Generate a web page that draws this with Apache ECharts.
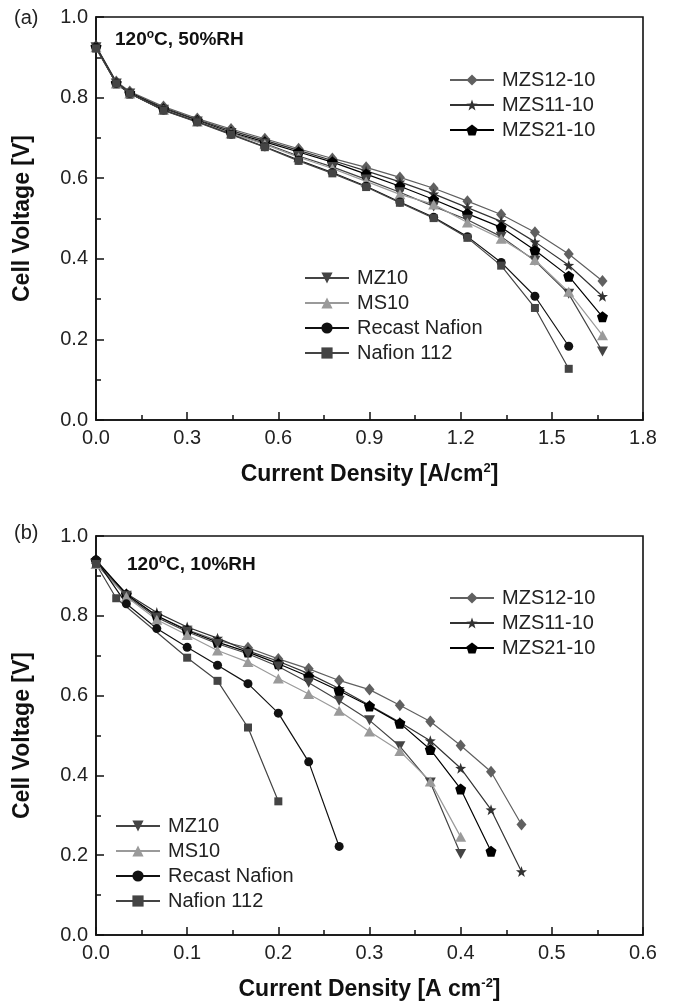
<!DOCTYPE html>
<html><head><meta charset="utf-8">
<script src="https://cdn.jsdelivr.net/npm/echarts@6/dist/echarts.min.js"></script>
<style>html,body{margin:0;padding:0;background:#fff}#c{width:673px;height:1002px}</style>
</head><body><div id="c"></div>
<script>
// ---- data ----
const names = ['MZS12-10','MZS11-10','MZS21-10','MZ10','MS10','Recast Nafion','Nafion 112'];
const xTicksA = [0.0,0.3,0.6,0.9,1.2,1.5,1.8];
const xTicksB = [0.0,0.1,0.2,0.3,0.4,0.5,0.6];
const yTicks = [0.0,0.2,0.4,0.6,0.8,1.0];

// panel (a) 120 C, 50% RH
const xA = [0, 0.0667, 0.1111, 0.2222, 0.3333, 0.4444, 0.5556, 0.6667, 0.7778, 0.8889, 1.0, 1.1111, 1.2222, 1.3333, 1.4444, 1.5556, 1.6667];
const aMZS12 = [0.928, 0.840, 0.815, 0.778, 0.748, 0.722, 0.698, 0.673, 0.649, 0.627, 0.602, 0.575, 0.543, 0.510, 0.466, 0.412, 0.345];
const aMZS11 = [0.927, 0.838, 0.813, 0.775, 0.745, 0.718, 0.694, 0.669, 0.644, 0.618, 0.591, 0.561, 0.527, 0.493, 0.442, 0.384, 0.307];
const aMZS21 = [0.926, 0.836, 0.811, 0.772, 0.743, 0.714, 0.690, 0.665, 0.640, 0.610, 0.580, 0.547, 0.512, 0.478, 0.421, 0.357, 0.256];
const aMZ10  = [0.925, 0.835, 0.810, 0.770, 0.741, 0.712, 0.686, 0.655, 0.628, 0.597, 0.565, 0.530, 0.497, 0.455, 0.395, 0.313, 0.170];
const aMS10  = [0.925, 0.835, 0.810, 0.770, 0.741, 0.711, 0.684, 0.652, 0.624, 0.592, 0.560, 0.535, 0.490, 0.450, 0.397, 0.318, 0.210];
const aRecast= [0.925, 0.835, 0.810, 0.769, 0.740, 0.709, 0.678, 0.645, 0.614, 0.580, 0.541, 0.503, 0.455, 0.391, 0.307, 0.183];
const aN112  = [0.922, 0.835, 0.810, 0.768, 0.739, 0.708, 0.677, 0.643, 0.612, 0.578, 0.539, 0.501, 0.452, 0.383, 0.278, 0.127];

// panel (b) 120 C, 10% RH
const xB = [0, 0.0333, 0.0667, 0.1, 0.1333, 0.1667, 0.2, 0.2333, 0.2667, 0.3, 0.3333, 0.3667, 0.4, 0.4333, 0.4667];
const xBN112 = [0, 0.0222, 0.1, 0.1333, 0.1667, 0.2];
const bMZS12 = [0.932, 0.852, 0.800, 0.765, 0.738, 0.720, 0.692, 0.667, 0.638, 0.615, 0.576, 0.535, 0.475, 0.409, 0.277];
const bMZS11 = [0.935, 0.856, 0.808, 0.772, 0.744, 0.712, 0.686, 0.655, 0.618, 0.576, 0.533, 0.487, 0.418, 0.314, 0.159];
const bMZS21 = [0.940, 0.854, 0.800, 0.763, 0.734, 0.709, 0.680, 0.648, 0.612, 0.574, 0.531, 0.465, 0.366, 0.210];
const bMZ10  = [0.930, 0.850, 0.796, 0.760, 0.730, 0.705, 0.673, 0.632, 0.587, 0.538, 0.473, 0.382, 0.203];
const bMS10  = [0.930, 0.848, 0.790, 0.752, 0.713, 0.684, 0.643, 0.604, 0.562, 0.510, 0.461, 0.385, 0.246];
const bRecast= [0.940, 0.830, 0.768, 0.721, 0.676, 0.630, 0.556, 0.434, 0.222];
const bN112  = [0.930, 0.844, 0.695, 0.637, 0.520, 0.335];

// ---- styles ----
const STAR = 'path://M10,0 L12.35,6.76 L19.51,6.91 L13.8,11.24 L15.88,18.09 L10,14 L4.12,18.09 L6.2,11.24 L0.49,6.91 L7.65,6.76 Z';
const PENT = 'path://M10,0 L19.51,6.91 L15.88,18.09 L4.12,18.09 L0.49,6.91 Z';
const TDOWN = 'path://M0,0 L10,0 L5,8.66 Z';
const sty = {
  'MZS12-10': {symbol:'diamond', size:[10,12], color:'#606060'},
  'MZS11-10': {symbol:STAR, size:11, color:'#333333'},
  'MZS21-10': {symbol:PENT, size:11, color:'#000000'},
  'MZ10': {symbol:TDOWN, size:[11,10], color:'#444444'},
  'MS10': {symbol:'triangle', size:[11,10], color:'#9a9a9a'},
  'Recast Nafion': {symbol:'circle', size:9, color:'#111111'},
  'Nafion 112': {symbol:'rect', size:8, color:'#444444'}
};
const zip = (xs, ys) => ys.map((v, i) => [xs[i], v]);
function mk(name, xs, ys, idx) {
  const s = sty[name];
  return {
    name, type:'line', xAxisIndex: idx, yAxisIndex: idx,
    data: zip(xs, ys), symbol: s.symbol, symbolSize: s.size, showSymbol: true,
    lineStyle: {color: s.color, width: 1.2},
    itemStyle: {color: s.color, borderWidth: 0},
    animation: false, z: 3
  };
}
const series = [
  mk('MZS12-10', xA, aMZS12, 0), mk('MZS11-10', xA, aMZS11, 0), mk('MZS21-10', xA, aMZS21, 0),
  mk('MZ10', xA, aMZ10, 0), mk('MS10', xA, aMS10, 0), mk('Recast Nafion', xA, aRecast, 0), mk('Nafion 112', xA, aN112, 0),
  mk('MZS12-10', xB, bMZS12, 1), mk('MZS11-10', xB, bMZS11, 1), mk('MZS21-10', xB, bMZS21, 1),
  mk('MZ10', xB, bMZ10, 1), mk('MS10', xB, bMS10, 1), mk('Recast Nafion', xB, bRecast, 1), mk('Nafion 112', xBN112, bN112, 1)
];

const FONT = 'Liberation Sans, Arial, sans-serif';
const tickLbl = {fontFamily: FONT, fontSize: 20, color: '#222', margin: 8};
function xAx(idx, ticks, nameRich) {
  const step = ticks[1] - ticks[0];
  return {
    type:'value', gridIndex: idx, min: ticks[0], max: ticks[ticks.length-1], interval: step,
    axisLine: {show: true, onZero: false, lineStyle: {color: '#111', width: 1.6}},
    axisTick: {show: true, inside: true, length: 8, lineStyle: {color: '#111', width: 1.5}},
    minorTick: {show: true, splitNumber: 2, length: 5, lineStyle: {color: '#111', width: 1.5}},
    splitLine: {show: false},
    axisLabel: Object.assign({formatter: v => v.toFixed(1)}, tickLbl),
    name: nameRich, nameLocation: 'middle', nameGap: 42,
    nameTextStyle: {
      rich: {
        t: {fontFamily: FONT, fontSize: 23, fontWeight: 'bold', color: '#111'},
        s: {fontFamily: FONT, fontSize: 13, fontWeight: 'bold', color: '#111', padding: [0,0,12,0]}
      }
    }
  };
}
function yAx(idx) {
  return {
    type:'value', gridIndex: idx, min: 0, max: 1, interval: 0.2,
    axisLine: {show: true, onZero: false, lineStyle: {color: '#111', width: 1.6}},
    axisTick: {show: true, inside: true, length: 8, lineStyle: {color: '#111', width: 1.5}},
    minorTick: {show: true, splitNumber: 2, length: 5, lineStyle: {color: '#111', width: 1.5}},
    splitLine: {show: false},
    axisLabel: Object.assign({formatter: v => v.toFixed(1)}, tickLbl),
    name: 'Cell Voltage [V]', nameLocation: 'middle', nameGap: 62,
    nameTextStyle: {fontFamily: FONT, fontSize: 23, fontWeight: 'bold', color: '#111'}
  };
}
function leg(items, left, top) {
  return {
    data: items, left: left, top: top, orient: 'vertical',
    itemWidth: 44, itemHeight: 14, itemGap: 5, selectedMode: false,
    textStyle: {fontFamily: FONT, fontSize: 20, color: '#222', lineHeight: 20, padding: [0,0,0,3]}
  };
}
const chart = echarts.init(document.getElementById('c'), null, {renderer: 'canvas'});
chart.setOption({
  backgroundColor: '#fff',
  animation: false,
  grid: [
    {left: 96, right: 30, top: 17, height: 403, show: true, borderColor: '#111', borderWidth: 1.6, backgroundColor: 'transparent'},
    {left: 96, right: 30, top: 536, height: 403, show: true, borderColor: '#111', borderWidth: 1.6, backgroundColor: 'transparent'}
  ],
  xAxis: [
    xAx(0, xTicksA, '{t|Current Density [A/cm}{s|2}{t|]}'),
    xAx(1, xTicksB, '{t|Current Density [A cm}{s|-2}{t|]}')
  ],
  yAxis: [yAx(0), yAx(1)],
  legend: [
    leg(['MZS12-10','MZS11-10','MZS21-10'], 444, 65),
    leg(['MZ10','MS10','Recast Nafion','Nafion 112'], 299, 263),
    leg(['MZS12-10','MZS11-10','MZS21-10'], 444, 583),
    leg(['MZ10','MS10','Recast Nafion','Nafion 112'], 110, 811)
  ],
  graphic: [
    {type: 'text', left: 14, top: 8, style: {text: '(a)', font: '20px ' + FONT, fill: '#222'}},
    {type: 'text', left: 14, top: 523, style: {text: '(b)', font: '20px ' + FONT, fill: '#222'}},
    {type: 'text', left: 115, top: 29, style: {
      text: '{t|120}{s|o}{t|C, 50%RH}',
      rich: {t: {fontFamily: FONT, fontSize: 19, fontWeight: 'bold', fill: '#111'},
             s: {fontFamily: FONT, fontSize: 12, fontWeight: 'bold', fill: '#111', padding: [0,0,9,0]}}
    }},
    {type: 'text', left: 127, top: 554, style: {
      text: '{t|120}{s|o}{t|C, 10%RH}',
      rich: {t: {fontFamily: FONT, fontSize: 19, fontWeight: 'bold', fill: '#111'},
             s: {fontFamily: FONT, fontSize: 12, fontWeight: 'bold', fill: '#111', padding: [0,0,9,0]}}
    }}
  ],
  series: series
});
</script></body></html>
